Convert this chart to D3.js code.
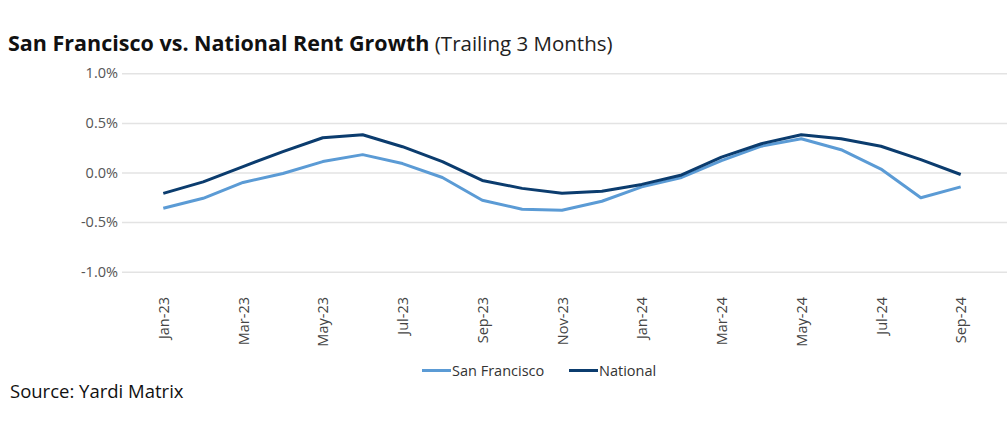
<!DOCTYPE html>
<html><head><meta charset="utf-8">
<script src="https://cdn.jsdelivr.net/npm/d3@7"></script>
<style>
body{margin:0;background:#fff;}
text{font-family:"Open Sans", Lato, sans-serif;}
</style></head>
<body>
<svg id="c" width="1007" height="433"></svg>
<script>
const months = ["Jan-23","Feb-23","Mar-23","Apr-23","May-23","Jun-23","Jul-23","Aug-23","Sep-23","Oct-23","Nov-23","Dec-23",
"Jan-24","Feb-24","Mar-24","Apr-24","May-24","Jun-24","Jul-24","Aug-24","Sep-24"];
const sanFrancisco = [-0.36,-0.26,-0.10,-0.01,0.11,0.18,0.09,-0.05,-0.28,-0.37,-0.38,-0.29,-0.145,-0.05,0.12,0.265,0.34,0.23,0.035,-0.255,-0.145];
const national = [-0.21,-0.095,0.06,0.21,0.35,0.38,0.26,0.11,-0.08,-0.16,-0.21,-0.19,-0.12,-0.025,0.155,0.29,0.38,0.34,0.265,0.13,-0.02];
const yTicks = [-1.0,-0.5,0.0,0.5,1.0];
const tickMonths = months.filter((m,i)=>i%2===0);

const svg = d3.select("#c");
const x = d3.scalePoint().domain(months).range([163.3,960.7]);
const y = d3.scaleLinear().domain([-1,1]).range([271.7,73.3]);

// title
const t = svg.append("text").attr("x",8).attr("y",51).attr("fill","#111");
t.append("tspan").attr("font-weight","bold").attr("font-size","21.5px").text("San Francisco vs. National Rent Growth");
t.append("tspan").attr("font-size","20.5px").attr("fill","#222").text(" (Trailing 3 Months)");

// grid + y axis
const ya = svg.append("g").attr("transform","translate(122,0)")
  .call(d3.axisLeft(y).tickValues(yTicks).tickSize(-885).tickPadding(4).tickFormat(d=>d.toFixed(1)+"%"));
ya.select(".domain").remove();
ya.selectAll(".tick line").attr("stroke","#e3e3e3").attr("stroke-width",1.5);
ya.selectAll(".tick text").attr("fill","#555").attr("font-size","14.5px");

// x axis labels
const xa = svg.append("g").attr("transform","translate(0,290)")
  .call(d3.axisBottom(x).tickValues(tickMonths).tickSize(0));
xa.select(".domain").remove();
xa.selectAll(".tick text").attr("fill","#444").attr("font-size","14.5px")
  .attr("transform","rotate(-90)").attr("text-anchor","end").attr("dx","-7").attr("dy","0.35em").attr("y",0).attr("x",0);

const line = d3.line().x((d,i)=>x(months[i])).y(d=>y(d));
svg.append("path").datum(sanFrancisco).attr("d",line).attr("fill","none").attr("stroke","#5b9bd5").attr("stroke-width",3).attr("stroke-linejoin","round");
svg.append("path").datum(national).attr("d",line).attr("fill","none").attr("stroke","#0b3c6e").attr("stroke-width",3).attr("stroke-linejoin","round");

// legend
const legend = [{n:"San Francisco",c:"#5b9bd5",x:422},{n:"National",c:"#0b3c6e",x:569}];
legend.forEach(l=>{
  svg.append("line").attr("x1",l.x).attr("x2",l.x+29).attr("y1",370.5).attr("y2",370.5).attr("stroke",l.c).attr("stroke-width",3);
  svg.append("text").attr("x",l.x+30).attr("y",375.5).attr("font-size","14.5px").attr("fill","#333").text(l.n);
});

svg.append("text").attr("x",10).attr("y",397.5).attr("font-size","18.5px").attr("fill","#111").text("Source: Yardi Matrix");
</script>
</body></html>
